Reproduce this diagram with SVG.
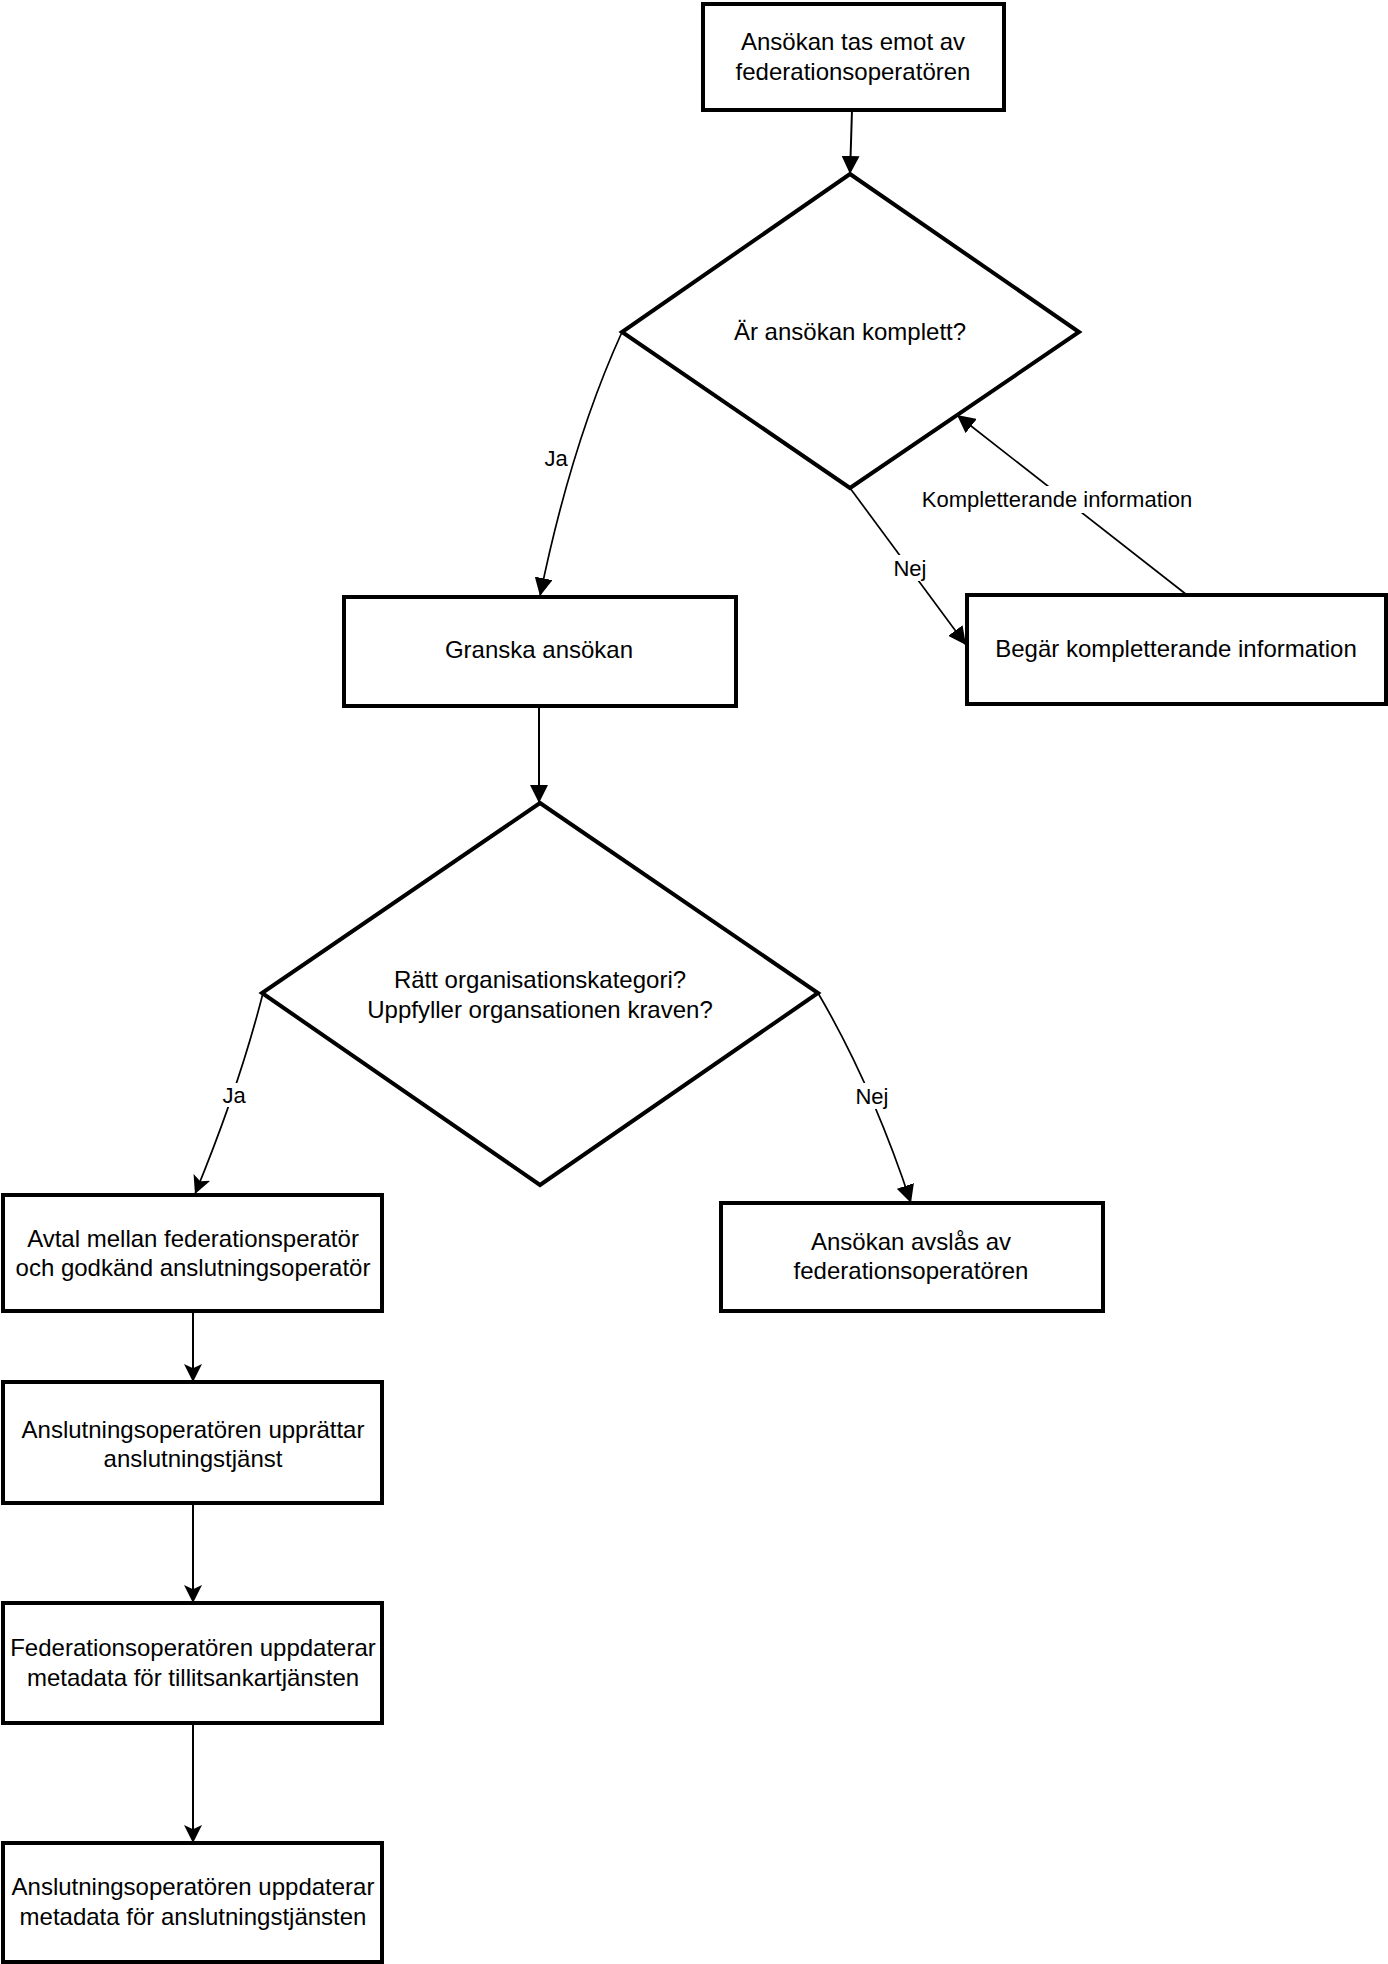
<svg xmlns="http://www.w3.org/2000/svg" width="1388" height="1964" viewBox="0 0 1388 1964">
<style>
.box{fill:#fff;stroke:#000;stroke-width:4;stroke-linejoin:miter}
.t{font-family:"Liberation Sans",Arial,sans-serif;font-size:24px;fill:#000;text-anchor:middle}
.lbl{font-family:"Liberation Sans",Arial,sans-serif;font-size:22px;fill:#000;text-anchor:middle}
.e{fill:none;stroke:#000;stroke-width:2}
.thin{stroke-width:1.7}
.bg{fill:#fff;stroke:none}
</style>
<defs>
<marker id="blk" markerUnits="userSpaceOnUse" markerWidth="18" markerHeight="18" refX="17" refY="8.5" orient="auto" viewBox="0 0 17 17">
<path d="M0,0 L17,8.5 L0,17 z" fill="#000"/>
</marker>
<marker id="cls" markerUnits="userSpaceOnUse" markerWidth="18" markerHeight="18" refX="17" refY="8.5" orient="auto" viewBox="0 0 17 17">
<path d="M0,0 L17,8.5 L0,17 L4,8.5 z" fill="#000"/>
</marker>
</defs>
<rect width="1388" height="1964" fill="#fff"/>

<g id="connectors">
<path class="e" d="M852,110 L850,174" marker-end="url(#blk)"/>
<path class="e thin" d="M622,332 C582,420 558,508 540,596" marker-end="url(#blk)"/>
<path class="e thin" d="M850,488 L966,645" marker-end="url(#blk)"/>
<path class="e thin" d="M1187,595 L957,415" marker-end="url(#blk)"/>
<path class="e" d="M539,706 L539,803" marker-end="url(#blk)"/>
<path class="e thin" d="M263,993 C246,1060 223,1126 195,1194" marker-end="url(#cls)"/>
<path class="e thin" d="M818,993 Q872,1085 911,1203" marker-end="url(#blk)"/>
<path class="e" d="M193,1311 L193,1382" marker-end="url(#cls)"/>
<path class="e" d="M193,1503 L193,1603" marker-end="url(#cls)"/>
<path class="e" d="M193,1723 L193,1843" marker-end="url(#cls)"/>
<g id="edge-labels">
<rect class="bg" x="543" y="447" width="27" height="24"/>
<text class="lbl" x="556" y="466">Ja</text>
<rect class="bg" x="892" y="555" width="36" height="26"/>
<text class="lbl" x="910" y="576">Nej</text>
<rect class="bg" x="918" y="486" width="278" height="27"/>
<text class="lbl" x="1057" y="507">Kompletterande information</text>
<rect class="bg" x="221" y="1083" width="27" height="24"/>
<text class="lbl" x="234" y="1103">Ja</text>
<rect class="bg" x="854" y="1083" width="36" height="26"/>
<text class="lbl" x="872" y="1104">Nej</text>
</g>
</g>

<g id="n1">
<rect class="box" x="703" y="4" width="301" height="106"/>
<text class="t" x="853" y="50">Ansökan tas emot av</text>
<text class="t" x="853" y="80">federationsoperatören</text>
</g>
<g id="d1">
<polygon class="box" points="850,174 1079,332 850,488 622,332"/>
<text class="t" x="850" y="340">Är ansökan komplett?</text>
</g>
<g id="n2">
<rect class="box" x="344" y="597" width="392" height="109"/>
<text class="t" x="539" y="658">Granska ansökan</text>
</g>
<g id="n3">
<rect class="box" x="967" y="595" width="419" height="109"/>
<text class="t" x="1176" y="657">Begär kompletterande information</text>
</g>
<g id="d2">
<polygon class="box" points="540,803 818,993 540,1185 262,993"/>
<text class="t" x="540" y="988">Rätt organisationskategori?</text>
<text class="t" x="540" y="1018">Uppfyller organsationen kraven?</text>
</g>
<g id="n4">
<rect class="box" x="721" y="1203" width="382" height="108"/>
<text class="t" x="911" y="1250">Ansökan avslås av</text>
<text class="t" x="911" y="1279">federationsoperatören</text>
</g>
<g id="n5">
<rect class="box" x="3" y="1195" width="379" height="116"/>
<text class="t" x="193" y="1247">Avtal mellan federationsperatör</text>
<text class="t" x="193" y="1276">och godkänd anslutningsoperatör</text>
</g>
<g id="n6">
<rect class="box" x="3" y="1382" width="379" height="121"/>
<text class="t" x="193" y="1438">Anslutningsoperatören upprättar</text>
<text class="t" x="193" y="1467">anslutningstjänst</text>
</g>
<g id="n7">
<rect class="box" x="3" y="1603" width="379" height="120"/>
<text class="t" x="193" y="1656">Federationsoperatören uppdaterar</text>
<text class="t" x="193" y="1686">metadata för tillitsankartjänsten</text>
</g>
<g id="n8">
<rect class="box" x="3" y="1843" width="379" height="119"/>
<text class="t" x="193" y="1895">Anslutningsoperatören uppdaterar</text>
<text class="t" x="193" y="1925">metadata för anslutningstjänsten</text>
</g>
</svg>
